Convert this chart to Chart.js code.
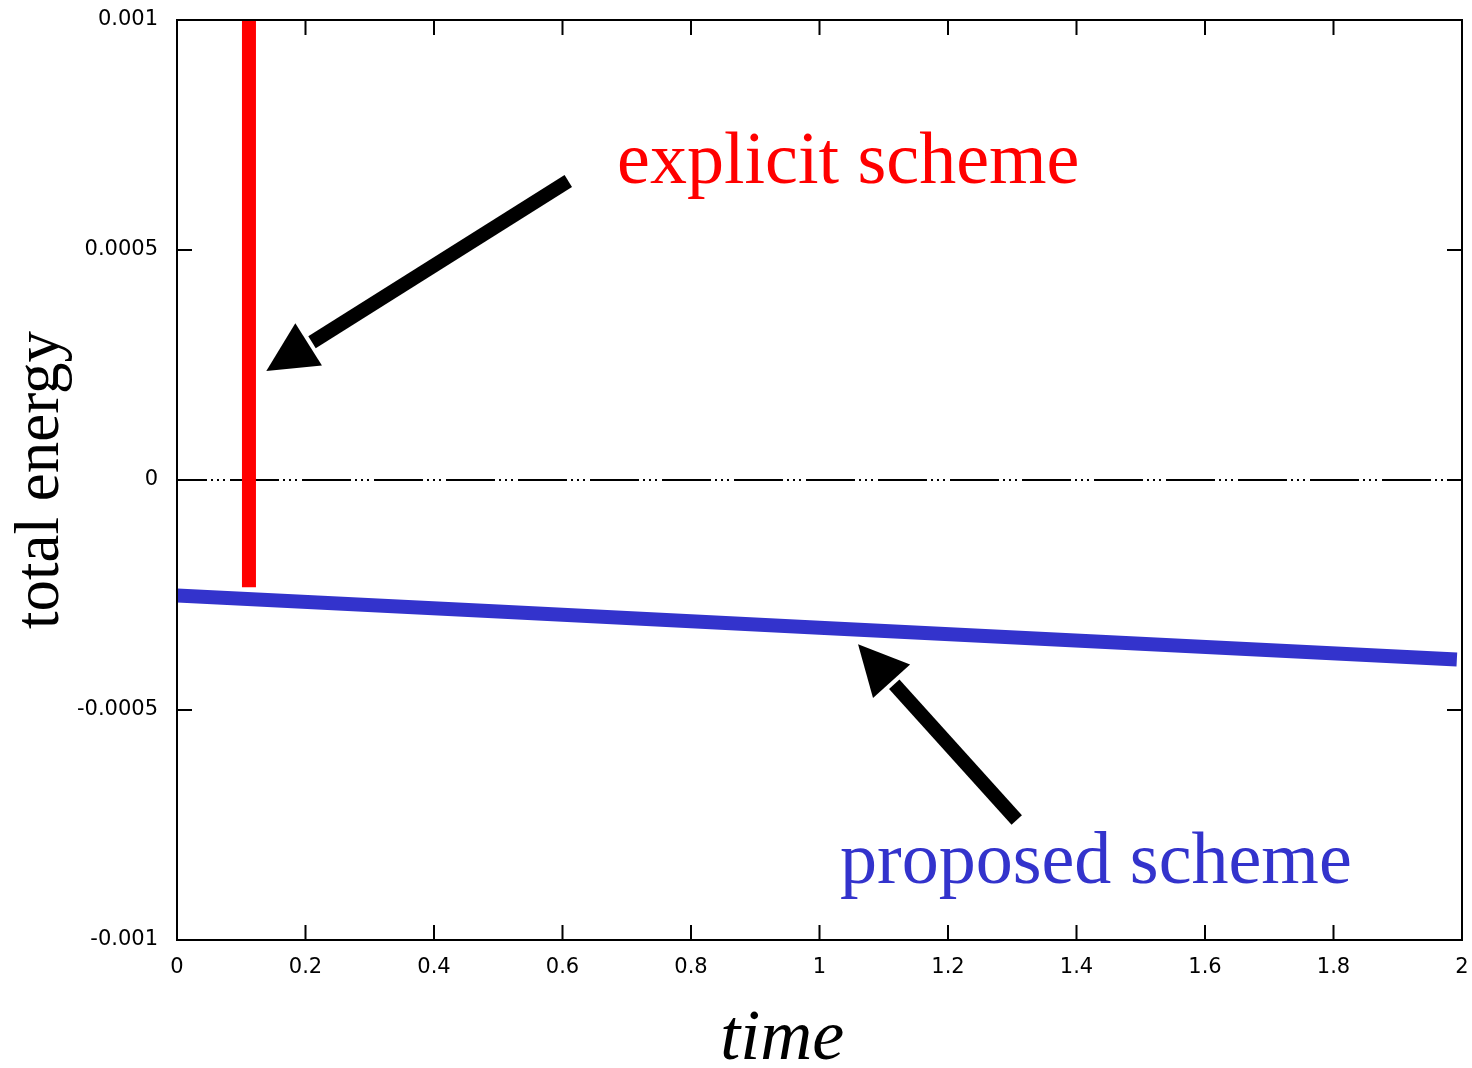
<!DOCTYPE html>
<html>
<head>
<meta charset="utf-8">
<script src="https://cdn.jsdelivr.net/npm/chart.js@4/dist/chart.umd.min.js"></script>
<style>
  html, body { margin: 0; padding: 0; background: #fff; }
  canvas { display: block; }
</style>
</head>
<body>
<canvas id="energy" width="1472" height="1068"></canvas>
<script>
// values
const explicitX = [0.112, 0.112];
const explicitY = [0.0011, -0.000233];
const proposedX = [0, 0.5, 1.0, 1.5, 1.992];
const proposedY = [-0.000251, -0.000286, -0.000321, -0.000356, -0.00039];

const xTicks = [0, 0.2, 0.4, 0.6, 0.8, 1, 1.2, 1.4, 1.6, 1.8, 2];
const xTickLabels = ["0", "0.2", "0.4", "0.6", "0.8", "1", "1.2", "1.4", "1.6", "1.8", "2"];
const yTicks = [-0.001, -0.0005, 0, 0.0005, 0.001];
const yTickLabels = ["-0.001", "-0.0005", "0", "0.0005", "0.001"];

// annotations, in data units: arrow tail -> tip, label baseline start
const arrows = [
  { from: [0.609, 0.00065], to: [0.139, 0.000237] },
  { from: [1.307, -0.000739], to: [1.06, -0.000357] },
];
const notes = [
  { text: "explicit scheme", at: [0.685, 0.000645], color: "#ff0000" },
  { text: "proposed scheme", at: [1.032, -0.000876], color: "#3333cc" },
];

const serif = '"Liberation Serif", "Times New Roman", serif';
const tickFont = { family: '"DejaVu Sans", sans-serif', size: 21 };

const toPts = (xs, ys) => xs.map((x, i) => ({ x, y: ys[i] }));

const framePlugin = {
  id: "frame",
  beforeDatasetsDraw(chart) {
    // gnuplot style zero axis
    const { ctx, chartArea: a, scales: { y } } = chart;
    const y0 = y.getPixelForValue(0);
    ctx.save();
    ctx.strokeStyle = "#000";
    ctx.lineWidth = 2;
    ctx.setLineDash([49, 4, 2, 4, 2, 4, 2, 5]);
    ctx.lineDashOffset = 19;
    ctx.beginPath();
    ctx.moveTo(a.left, y0);
    ctx.lineTo(a.right, y0);
    ctx.stroke();
    ctx.restore();
  },
  afterDatasetsDraw(chart) {
    const { ctx, chartArea: a, scales: { x, y } } = chart;
    ctx.save();
    ctx.strokeStyle = "#000";
    ctx.lineWidth = 2;
    ctx.strokeRect(a.left, a.top, a.right - a.left, a.bottom - a.top);

    // inward ticks on all four sides
    const len = 15;
    ctx.beginPath();
    xTicks.forEach((v) => {
      const px = x.getPixelForValue(v);
      ctx.moveTo(px, a.bottom);
      ctx.lineTo(px, a.bottom - len);
      ctx.moveTo(px, a.top);
      ctx.lineTo(px, a.top + len);
    });
    yTicks.forEach((v) => {
      const py = y.getPixelForValue(v);
      ctx.moveTo(a.left, py);
      ctx.lineTo(a.left + len, py);
      ctx.moveTo(a.right, py);
      ctx.lineTo(a.right - len, py);
    });
    ctx.stroke();
    ctx.restore();
  },
  afterDraw(chart) {
    const { ctx, chartArea: a, scales: { x, y } } = chart;
    ctx.save();

    arrows.forEach((ar) => {
      const tx = x.getPixelForValue(ar.from[0]);
      const ty = y.getPixelForValue(ar.from[1]);
      const hx = x.getPixelForValue(ar.to[0]);
      const hy = y.getPixelForValue(ar.to[1]);
      const d = Math.hypot(tx - hx, ty - hy);
      const ux = (tx - hx) / d, uy = (ty - hy) / d;
      const headLen = 50, headHalf = 25;
      const bx = hx + ux * headLen, by = hy + uy * headLen;
      ctx.strokeStyle = "#000";
      ctx.lineWidth = 14;
      ctx.lineCap = "butt";
      ctx.beginPath();
      ctx.moveTo(tx, ty);
      ctx.lineTo(bx + ux * 4, by + uy * 4);
      ctx.stroke();
      ctx.fillStyle = "#000";
      ctx.beginPath();
      ctx.moveTo(hx, hy);
      ctx.lineTo(bx - uy * headHalf, by + ux * headHalf);
      ctx.lineTo(bx + uy * headHalf, by - ux * headHalf);
      ctx.closePath();
      ctx.fill();
    });

    ctx.textBaseline = "alphabetic";
    ctx.textAlign = "left";
    ctx.font = "74px " + serif;
    notes.forEach((n) => {
      ctx.fillStyle = n.color;
      ctx.fillText(n.text, x.getPixelForValue(n.at[0]), y.getPixelForValue(n.at[1]));
    });

    // x axis title, set slightly left of centre as in the original
    ctx.fillStyle = "#000";
    ctx.font = "italic 72px " + serif;
    ctx.textAlign = "center";
    ctx.fillText("time", a.left + (a.right - a.left) * 0.471, 1059);
    ctx.restore();
  },
};

new Chart(document.getElementById("energy"), {
  type: "scatter",
  data: {
    datasets: [
      {
        label: "explicit scheme",
        data: toPts(explicitX, explicitY),
        showLine: true,
        borderColor: "#ff0000",
        borderWidth: 14,
        borderCapStyle: "butt",
        pointRadius: 0,
        clip: 0,
      },
      {
        label: "proposed scheme",
        data: toPts(proposedX, proposedY),
        showLine: true,
        borderColor: "#3333cc",
        borderWidth: 14,
        borderCapStyle: "butt",
        pointRadius: 0,
        clip: 0,
      },
    ],
  },
  options: {
    responsive: false,
    animation: false,
    devicePixelRatio: 1,
    layout: { padding: { left: 0, top: 20, right: 10, bottom: 0 } },
    plugins: {
      legend: { display: false },
      tooltip: { enabled: false },
    },
    scales: {
      x: {
        type: "linear",
        min: 0,
        max: 2,
        afterBuildTicks: (s) => { s.ticks = xTicks.map((v) => ({ value: v })); },
        afterFit: (s) => {
          s.height = 128;
          s.paddingLeft = 0;
          s.paddingRight = 0;
        },
        grid: { display: false, drawTicks: false },
        border: { display: false },
        ticks: {
          padding: 15,
          autoSkip: false,
          maxRotation: 0,
          color: "#000",
          font: tickFont,
          callback: (v, i) => xTickLabels[i],
        },
      },
      y: {
        type: "linear",
        min: -0.001,
        max: 0.001,
        afterBuildTicks: (s) => { s.ticks = yTicks.map((v) => ({ value: v })); },
        afterFit: (s) => {
          s.width = 177;
          s.paddingTop = 0;
          s.paddingBottom = 0;
        },
        grid: { display: false, drawTicks: false },
        border: { display: false },
        title: {
          display: true,
          text: "total energy",
          color: "#000",
          font: { family: serif, size: 63, lineHeight: 1.2 },
          padding: { top: 4, bottom: 0 },
        },
        ticks: {
          padding: 19,
          autoSkip: false,
          color: "#000",
          font: tickFont,
          callback: (v, i) => yTickLabels[i],
        },
      },
    },
  },
  plugins: [framePlugin],
});
</script>
</body>
</html>
